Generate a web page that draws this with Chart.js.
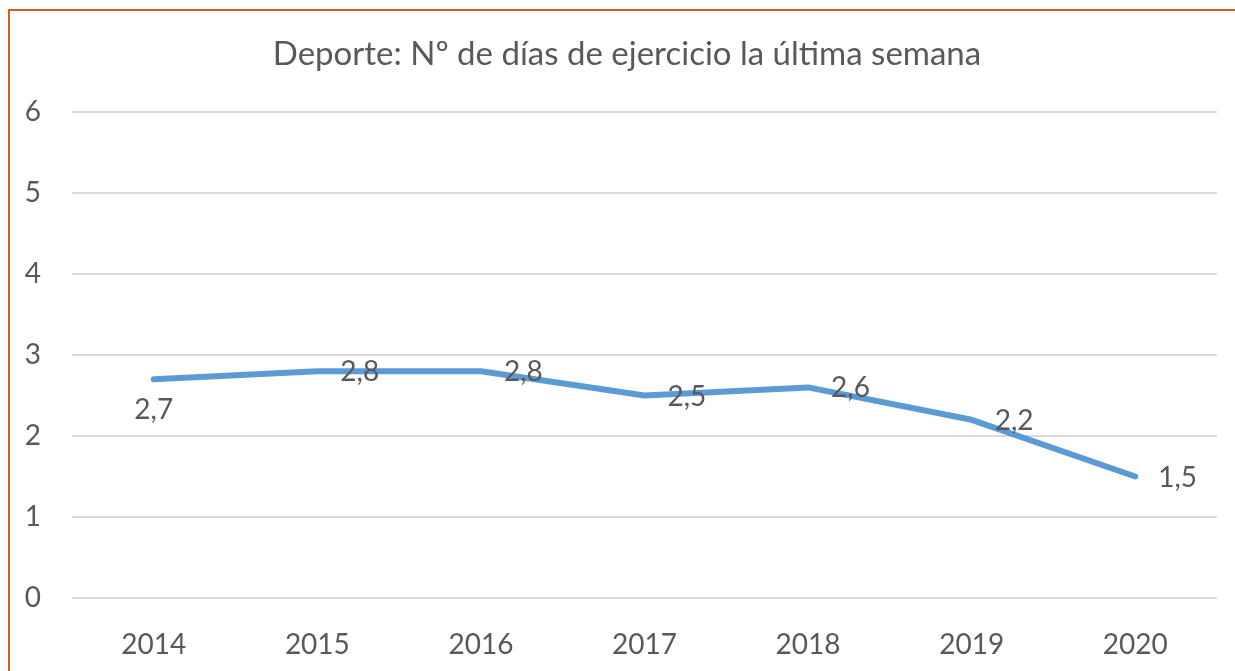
<!DOCTYPE html>
<html>
<head>
<meta charset="utf-8">
<script src="https://cdn.jsdelivr.net/npm/chart.js@4/dist/chart.umd.min.js"></script>
<style>
html,body{margin:0;padding:0;background:#fff;}
#wrap{position:relative;width:1235px;height:671px;overflow:hidden;}
#frame{position:absolute;left:8px;top:9px;width:1300px;height:700px;border-left:2px solid #D0611C;border-top:2px solid #D0611C;pointer-events:none;}
canvas{position:absolute;left:0;top:0;}
</style>
</head>
<body>
<div id="wrap">
<canvas id="c" width="1235" height="671"></canvas>
<div id="frame"></div>
</div>
<script>
const titleText = "Deporte: Nº de días de ejercicio la última semana";
const years = ["2014","2015","2016","2017","2018","2019","2020"];
const days = [2.7, 2.8, 2.8, 2.5, 2.6, 2.2, 1.5];
const yTicks = [0,1,2,3,4,5,6];

const FONT = "Lato, 'Open Sans', sans-serif";
const GREY = "#595959";

const titlePlugin = {
  id: 'customTitle',
  afterDraw(chart) {
    const ctx = chart.ctx;
    ctx.save();
    ctx.font = "33px " + FONT;
    ctx.fillStyle = GREY;
    ctx.textAlign = "center";
    ctx.textBaseline = "middle";
    ctx.fillText(titleText, 627, 54);
    ctx.restore();
  }
};

const labelPlugin = {
  id: 'valueLabels',
  afterDatasetsDraw(chart) {
    const ctx = chart.ctx;
    const meta = chart.getDatasetMeta(0);
    ctx.save();
    ctx.font = "28px " + FONT;
    ctx.fillStyle = GREY;
    ctx.textBaseline = "middle";
    meta.data.forEach((pt, i) => {
      const txt = days[i].toFixed(1).replace('.', ',');
      if (i === 0) {
        ctx.textAlign = "center";
        ctx.fillText(txt, pt.x, pt.y + 31);
      } else {
        ctx.textAlign = "left";
        ctx.fillText(txt, pt.x + 23, pt.y + 1);
      }
    });
    ctx.restore();
  }
};

new Chart(document.getElementById('c'), {
  type: 'line',
  data: {
    labels: years,
    datasets: [{
      data: days,
      borderColor: '#5B9BD5',
      borderWidth: 6,
      pointRadius: 0,
      tension: 0,
      borderCapStyle: 'round',
      borderJoinStyle: 'round',
      fill: false
    }]
  },
  options: {
    responsive: false,
    animation: false,
    devicePixelRatio: 1,
    layout: { padding: { left: 0, right: 18, top: 112, bottom: 0 } },
    plugins: { legend: { display: false }, title: { display: false }, tooltip: { enabled: false } },
    scales: {
      x: {
        offset: true,
        grid: { display: false },
        border: { display: false },
        ticks: { color: GREY, font: { family: FONT, size: 28 }, padding: 22, maxRotation: 0 },
        afterFit(s) { s.height = 73; }
      },
      y: {
        min: 0, max: 6,
        afterBuildTicks(s) { s.ticks = yTicks.map(v => ({ value: v })); },
        grid: { color: '#D9D9D9', lineWidth: 2, drawTicks: false },
        border: { display: false },
        ticks: { color: GREY, font: { family: FONT, size: 28 }, padding: 31 },
        afterFit(s) { s.width = 72; }
      }
    }
  },
  plugins: [titlePlugin, labelPlugin]
});
</script>
</body>
</html>
